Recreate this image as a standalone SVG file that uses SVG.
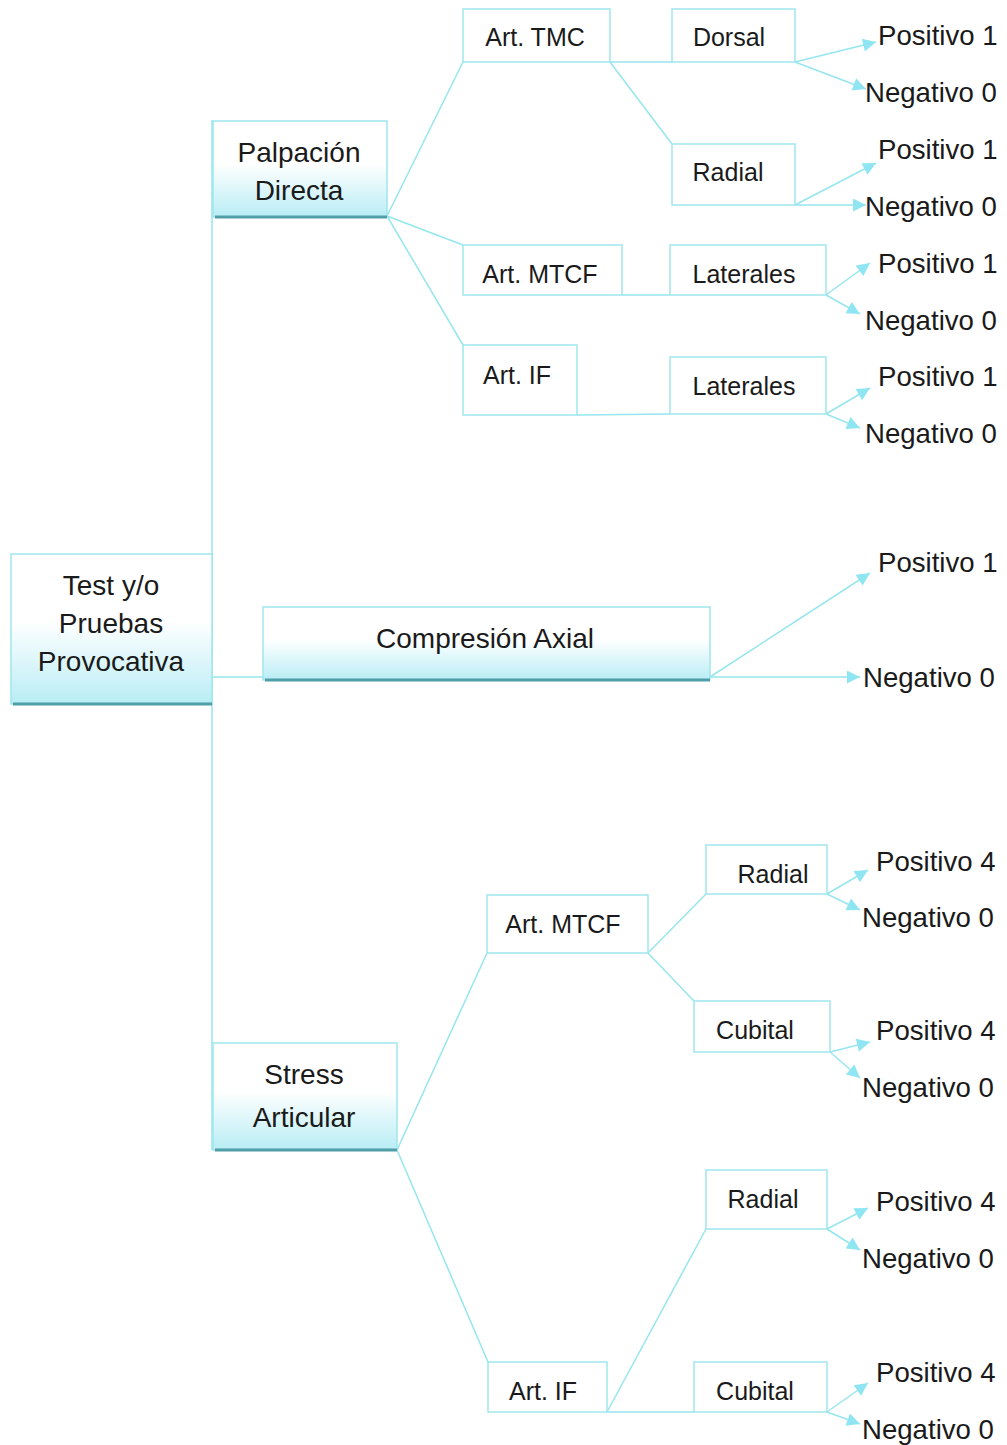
<svg xmlns="http://www.w3.org/2000/svg" width="1007" height="1445" viewBox="0 0 1007 1445">
<style>
.big{fill:url(#g);stroke:#9fe6ee;stroke-width:1.5}
.sh{stroke:#4f9ea8;stroke-width:3}
.sm{fill:#fff;stroke:#9fe6ee;stroke-width:1.5}
.ln{stroke:#95e6ee;stroke-width:1.5;fill:none}
.ar{stroke:#95e6ee;stroke-width:1.5;fill:none;marker-end:url(#a)}
text{font-family:"Liberation Sans",Arial,sans-serif;fill:#1a1a1a}
.t28{font-size:28px;text-anchor:middle}
.t25{font-size:25px;text-anchor:middle}
.t27{font-size:27.6px}
</style>
<defs>
<linearGradient id="g" x1="0" y1="0" x2="0" y2="1">
<stop offset="0" stop-color="#ffffff"/>
<stop offset="0.45" stop-color="#ffffff"/>
<stop offset="1" stop-color="#b8edf5"/>
</linearGradient>
<marker id="a" viewBox="0 0 10 10" refX="10" refY="5" markerUnits="userSpaceOnUse" markerWidth="15" markerHeight="13" orient="auto">
<path d="M0,0 L10,5 L0,10 z" fill="#8fe6f2"/>
</marker>
</defs>
<rect width="1007" height="1445" fill="#fff"/>
<g id="connectors">
<line class="ln" x1="212" y1="120" x2="212" y2="1150"/>
<line class="ln" x1="212" y1="677" x2="263" y2="677"/>
<line class="ln" x1="387" y1="216" x2="463" y2="62"/>
<line class="ln" x1="387" y1="216" x2="463" y2="245"/>
<line class="ln" x1="387" y1="216" x2="463" y2="345"/>
<line class="ln" x1="610" y1="62" x2="672" y2="62"/>
<line class="ln" x1="610" y1="62" x2="672" y2="144"/>
<line class="ln" x1="622" y1="295" x2="670" y2="295"/>
<line class="ln" x1="577" y1="415" x2="670" y2="414"/>
<line class="ln" x1="397" y1="1150" x2="487" y2="953"/>
<line class="ln" x1="397" y1="1150" x2="488" y2="1362"/>
<line class="ln" x1="648" y1="953" x2="706" y2="894"/>
<line class="ln" x1="648" y1="953" x2="694" y2="1001"/>
<line class="ln" x1="607" y1="1412" x2="706" y2="1229"/>
<line class="ln" x1="607" y1="1412" x2="694" y2="1412"/>
<line class="ar" x1="795" y1="62" x2="876" y2="42"/>
<line class="ar" x1="795" y1="62" x2="866" y2="89"/>
<line class="ar" x1="795" y1="205" x2="876" y2="163"/>
<line class="ar" x1="795" y1="205" x2="866" y2="205"/>
<line class="ar" x1="826" y1="295" x2="870" y2="263"/>
<line class="ar" x1="826" y1="295" x2="860" y2="314"/>
<line class="ar" x1="826" y1="414" x2="870" y2="388"/>
<line class="ar" x1="826" y1="414" x2="860" y2="428"/>
<line class="ar" x1="710" y1="677" x2="870" y2="573"/>
<line class="ar" x1="710" y1="677" x2="860" y2="677"/>
<line class="ar" x1="827" y1="894" x2="868" y2="870"/>
<line class="ar" x1="827" y1="894" x2="860" y2="910"/>
<line class="ar" x1="830" y1="1052" x2="870" y2="1042"/>
<line class="ar" x1="830" y1="1052" x2="860" y2="1078"/>
<line class="ar" x1="827" y1="1229" x2="868" y2="1208"/>
<line class="ar" x1="827" y1="1229" x2="860" y2="1250"/>
<line class="ar" x1="827" y1="1412" x2="868" y2="1383"/>
<line class="ar" x1="827" y1="1412" x2="860" y2="1424"/>
</g>
<g id="n-test">
<rect class="big" x="11" y="554" width="201" height="150"/>
<line class="sh" x1="13" y1="704" x2="212" y2="704"/>
<text class="t28" x="111" y="595">Test y/o</text>
<text class="t28" x="111" y="633">Pruebas</text>
<text class="t28" x="111" y="671">Provocativa</text>
</g>
<g id="n-palpacion">
<rect class="big" x="213" y="121" width="174" height="96"/>
<line class="sh" x1="215" y1="217" x2="387" y2="217"/>
<text class="t28" x="299" y="162">Palpación</text>
<text class="t28" x="299" y="200">Directa</text>
</g>
<g id="n-compresion">
<rect class="big" x="263" y="607" width="447" height="73"/>
<line class="sh" x1="265" y1="680" x2="710" y2="680"/>
<text class="t28" x="485" y="648">Compresión Axial</text>
</g>
<g id="n-stress">
<rect class="big" x="213" y="1043" width="184" height="107"/>
<line class="sh" x1="215" y1="1150" x2="397" y2="1150"/>
<text class="t28" x="304" y="1084">Stress</text>
<text class="t28" x="304" y="1127">Articular</text>
</g>
<g id="n-tmc"><rect class="sm" x="463" y="9" width="147" height="53"/><text class="t25" x="535" y="46">Art. TMC</text></g>
<g id="n-dorsal"><rect class="sm" x="672" y="9" width="123" height="53"/><text class="t25" x="729" y="46">Dorsal</text></g>
<g id="n-radial1"><rect class="sm" x="672" y="144" width="123" height="61"/><text class="t25" x="728" y="181">Radial</text></g>
<g id="n-mtcf1"><rect class="sm" x="463" y="245" width="159" height="50"/><text class="t25" x="540" y="283">Art. MTCF</text></g>
<g id="n-lat1"><rect class="sm" x="670" y="245" width="156" height="50"/><text class="t25" x="744" y="283">Laterales</text></g>
<g id="n-if1"><rect class="sm" x="463" y="345" width="114" height="70"/><text class="t25" x="517" y="384">Art. IF</text></g>
<g id="n-lat2"><rect class="sm" x="670" y="357" width="156" height="57"/><text class="t25" x="744" y="395">Laterales</text></g>
<g id="n-mtcf2"><rect class="sm" x="487" y="895" width="161" height="58"/><text class="t25" x="563" y="933">Art. MTCF</text></g>
<g id="n-radial2"><rect class="sm" x="706" y="845" width="121" height="49"/><text class="t25" x="773" y="883">Radial</text></g>
<g id="n-cubital1"><rect class="sm" x="694" y="1001" width="136" height="51"/><text class="t25" x="755" y="1039">Cubital</text></g>
<g id="n-radial3"><rect class="sm" x="706" y="1170" width="121" height="59"/><text class="t25" x="763" y="1208">Radial</text></g>
<g id="n-if2"><rect class="sm" x="488" y="1362" width="119" height="50"/><text class="t25" x="543" y="1400">Art. IF</text></g>
<g id="n-cubital2"><rect class="sm" x="694" y="1362" width="133" height="50"/><text class="t25" x="755" y="1400">Cubital</text></g>
<g id="outcomes">
<text class="t27" x="878" y="45">Positivo 1</text>
<text class="t27" x="865" y="102">Negativo 0</text>
<text class="t27" x="878" y="159">Positivo 1</text>
<text class="t27" x="865" y="216">Negativo 0</text>
<text class="t27" x="878" y="273">Positivo 1</text>
<text class="t27" x="865" y="330">Negativo 0</text>
<text class="t27" x="878" y="386">Positivo 1</text>
<text class="t27" x="865" y="443">Negativo 0</text>
<text class="t27" x="878" y="572">Positivo 1</text>
<text class="t27" x="863" y="687">Negativo 0</text>
<text class="t27" x="876" y="871">Positivo 4</text>
<text class="t27" x="862" y="927">Negativo 0</text>
<text class="t27" x="876" y="1040">Positivo 4</text>
<text class="t27" x="862" y="1097">Negativo 0</text>
<text class="t27" x="876" y="1211">Positivo 4</text>
<text class="t27" x="862" y="1268">Negativo 0</text>
<text class="t27" x="876" y="1382">Positivo 4</text>
<text class="t27" x="862" y="1439">Negativo 0</text>
</g>
</svg>
